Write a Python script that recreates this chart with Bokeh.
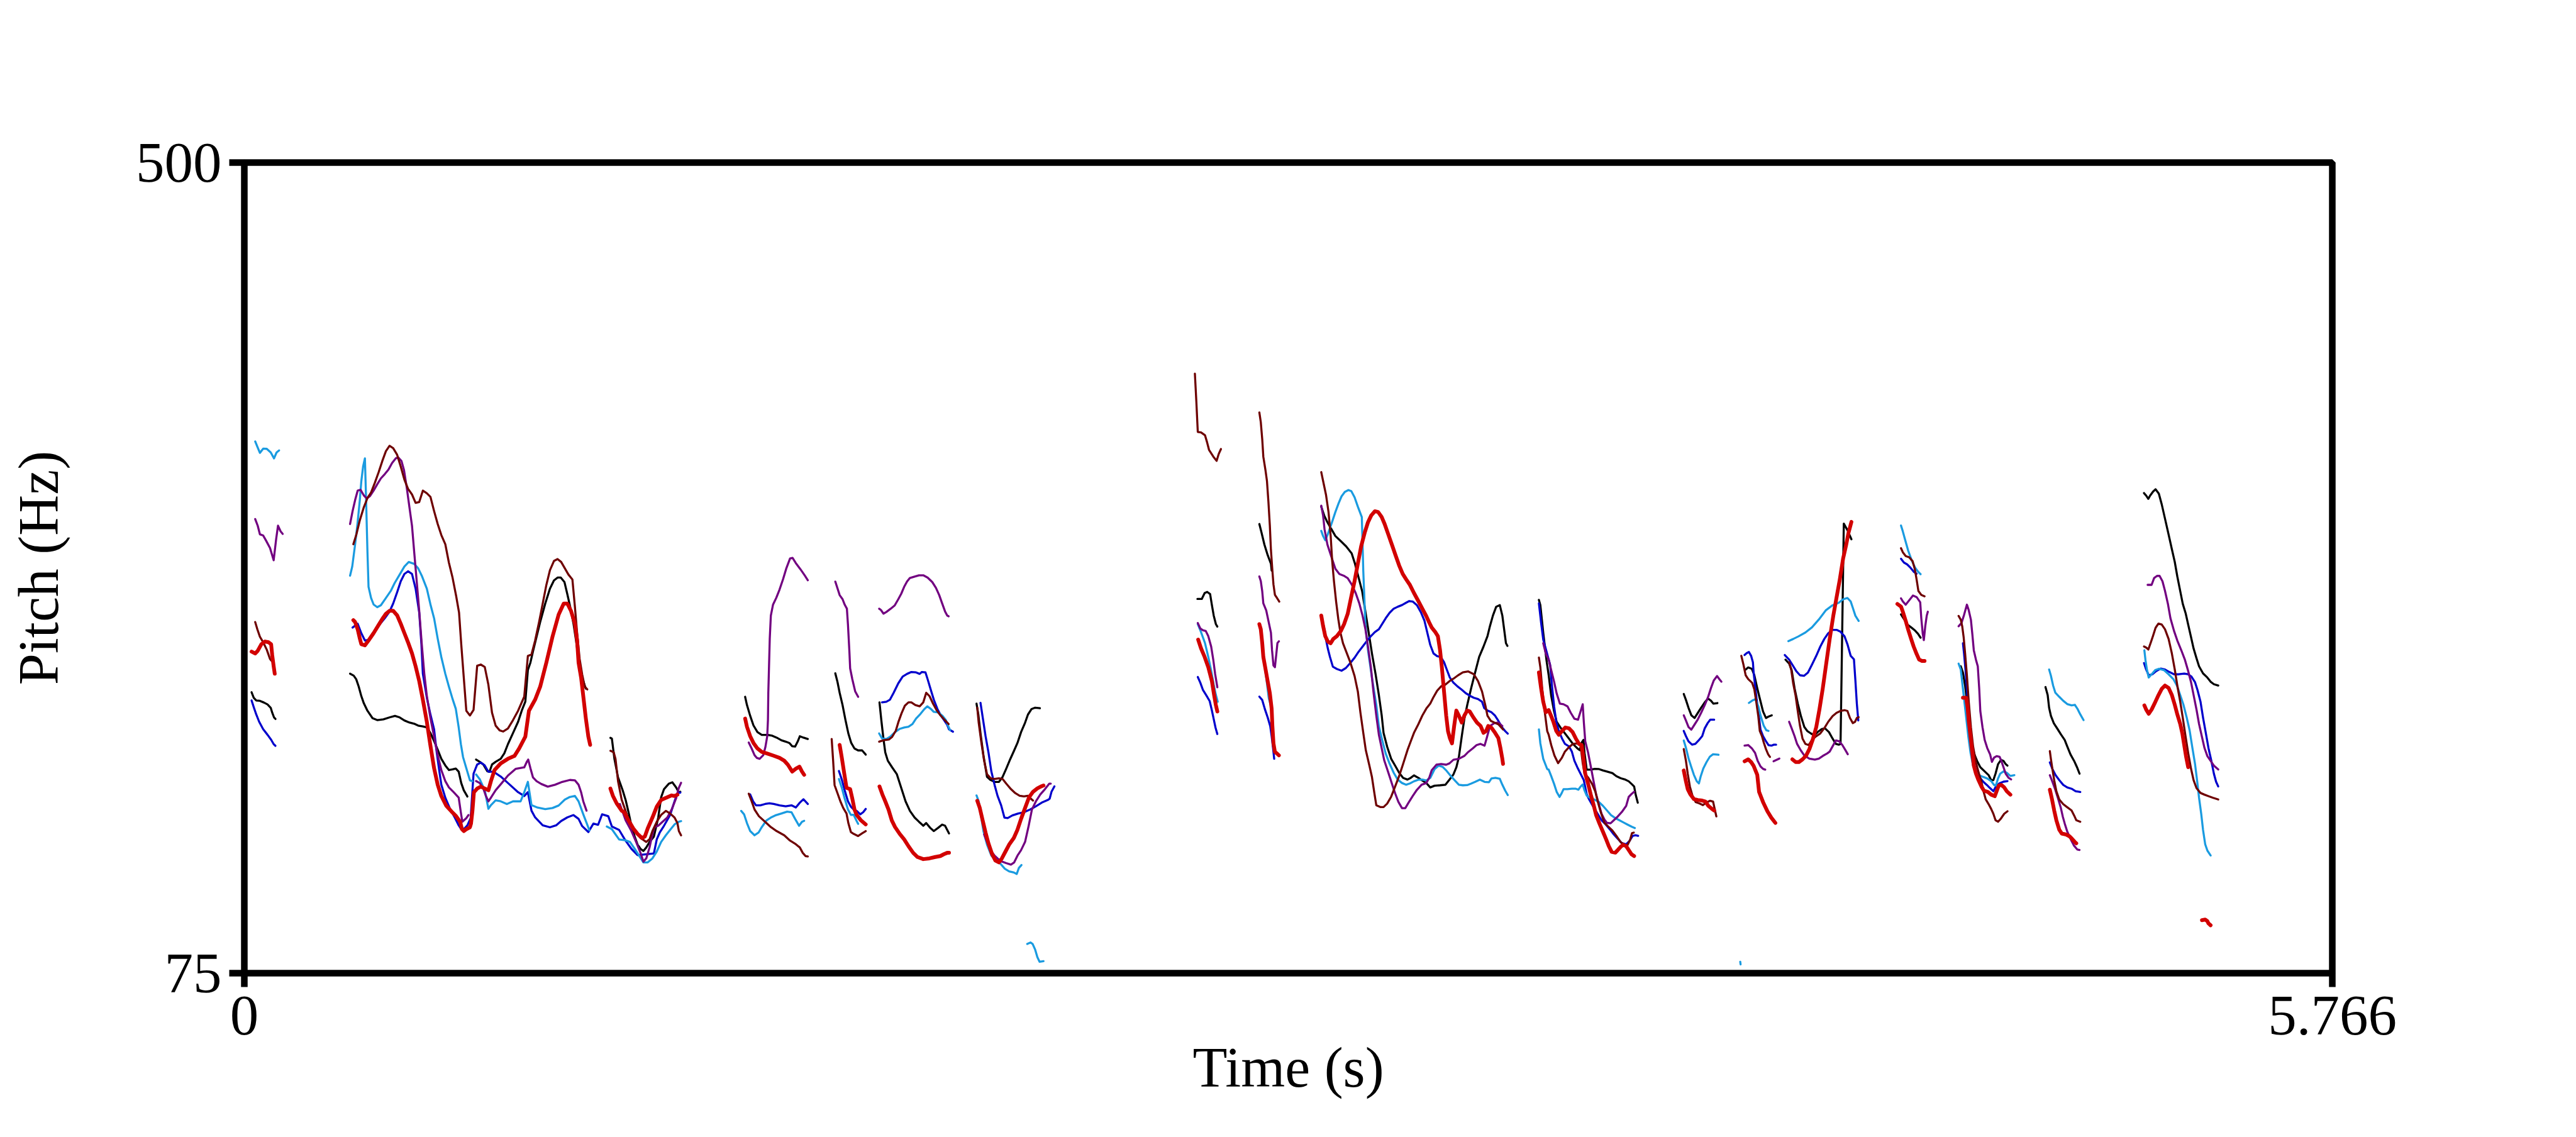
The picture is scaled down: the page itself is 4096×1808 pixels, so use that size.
from bokeh.plotting import figure
from bokeh.models import FixedTicker
from bokeh.embed import file_html
from bokeh.resources import INLINE

# ---------------- data (time in s, pitch in Hz) ----------------
X_TICKS = [0, 5.766]
X_TICK_LABELS = {0: "0", 5.766: "5.766"}
Y_TICKS = [75, 500]

BLACK_T = [
 [0.020,0.026,0.033,0.043,0.054,0.064,0.073,0.077,0.082,0.086],
 [0.292,0.302,0.309,0.316,0.323,0.330,0.340,0.354,0.367,0.384,0.401,0.416,0.429,0.442,0.456,0.469,0.480,0.493,0.504,0.514,0.524,0.534,0.544,0.555,0.565,0.575,0.584,0.592,0.599,0.606,0.616],
 [0.640,0.650,0.660,0.671,0.677,0.684,0.694,0.708,0.718,0.728,0.742,0.756,0.766,0.776,0.783,0.790,0.797,0.807,0.817,0.831,0.844,0.855,0.865,0.874,0.884,0.892,0.900,0.909,0.916,0.923,0.930,0.936,0.943],
 [1.011,1.015,1.022,1.032,1.045,1.053,1.061,1.069,1.078,1.086,1.094,1.102,1.110,1.119,1.131,1.143,1.151,1.159,1.172,1.182,1.192,1.200,1.204],
 [1.383,1.388,1.397,1.406,1.417,1.429,1.446,1.458,1.470,1.483,1.495,1.505,1.513,1.521,1.528,1.534,1.544,1.556],
 [1.632,1.638,1.644,1.652,1.660,1.668,1.676,1.685,1.695,1.706,1.716],
 [1.754,1.759,1.765,1.770,1.777,1.789,1.802,1.814,1.826,1.838,1.851,1.863,1.875,1.883,1.894,1.904,1.916,1.927,1.935,1.946],
 [2.022,2.027,2.033,2.041,2.051,2.059,2.072,2.084,2.094,2.104,2.115,2.125,2.135,2.145,2.156,2.164,2.174,2.184,2.197],
 [2.632,2.644,2.652,2.659,2.667,2.672,2.677,2.683,2.687],
 [2.803,2.809,2.817,2.826,2.835,2.837],
 [2.974,2.982,2.991,3.002,3.013,3.028,3.043,3.058,3.067,3.077,3.087,3.096,3.105,3.114,3.124,3.133,3.141,3.146,3.156,3.167,3.178,3.189,3.200,3.212,3.221,3.230,3.242,3.253,3.264,3.275,3.287,3.302,3.317,3.328,3.339,3.347,3.354,3.362,3.369,3.377,3.388,3.399,3.410,3.422,3.433,3.440,3.448,3.457,3.467,3.474,3.479,3.484,3.488],
 [3.575,3.579,3.587,3.596,3.602,3.609,3.617,3.624,3.636,3.647,3.658,3.669,3.681,3.688,3.693,3.698,3.701,3.707,3.718,3.729,3.741,3.752,3.763,3.778,3.789,3.801,3.812,3.823,3.831,3.838,3.842,3.848],
 [3.975,3.981,3.988,3.996,4.005,4.014,4.023,4.033,4.042,4.050,4.057,4.068],
 [4.146,4.153,4.163,4.170,4.178,4.185,4.194,4.202,4.209,4.218],
 [4.256,4.266,4.273,4.281,4.290,4.299,4.308,4.316,4.326,4.335,4.346,4.356,4.365,4.376,4.386,4.395,4.403,4.408,4.417,4.427,4.438],
 [4.575,4.584,4.593,4.603,4.614,4.622,4.629],
 [4.740,4.746,4.752,4.757,4.762,4.768,4.776,4.785,4.794,4.806,4.817,4.824,4.830,4.836,4.843,4.851,4.858,4.864,4.869],
 [4.974,4.980,4.984,4.989,4.997,5.007,5.017,5.027,5.034,5.043,5.053,5.061,5.068],
 [5.246,5.252,5.258,5.263,5.271,5.278,5.287,5.295,5.304,5.314,5.323,5.331,5.338,5.346,5.353,5.361,5.368,5.376,5.383,5.391,5.398,5.409,5.421,5.430,5.439,5.451],
]
BLACK_HZ = [
 [222.3,219.4,218.0,217.8,216.9,215.9,214.1,211.6,209.1,208.3],
 [232.0,231.0,229.1,225.2,220.3,216.5,212.6,208.7,207.7,208.1,209.1,209.9,209.1,207.5,206.4,205.8,204.8,204.4,203.9,200.9,196.7,192.2,187.4,183.9,181.5,181.9,182.3,180.6,174.7,170.9,167.6],
 [187.0,185.8,184.4,180.9,180.6,184.4,185.8,187.4,190.3,195.1,200.9,206.8,212.6,217.4,233.9,237.8,243.6,251.4,259.1,268.8,276.6,280.9,282.4,282.4,280.1,273.7,266.9,258.2,249.4,239.7,232.0,228.1,224.2],
 [198.4,198.0,187.4,177.7,170.8,165.8,159.4,152.3,146.6,142.4,140.2,139.1,140.9,143.8,146.6,156.6,167.2,171.5,174.3,175.1,172.5,169.7,170.1],
 [219.9,215.6,209.9,204.9,201.4,199.9,199.9,199.5,198.5,197.1,196.4,195.7,194.0,193.8,196.4,199.2,198.5,197.8],
 [232.2,227.7,222.0,215.6,207.8,200.7,195.7,192.8,191.8,191.8,189.6],
 [217.0,207.8,197.8,190.7,186.4,182.9,179.3,172.2,165.1,160.1,156.6,154.4,152.3,153.7,151.2,149.5,151.2,152.9,152.3,148.3],
 [216.3,210.6,200.7,189.3,177.9,176.5,175.3,175.3,177.9,182.2,187.2,191.4,195.7,201.4,206.3,210.6,213.5,214.2,213.9],
 [271.2,271.2,274.3,274.9,273.8,268.0,262.5,258.0,256.7],
 [310.5,306.0,299.7,294.2,289.7,286.1],
 [319.6,315.0,311.4,307.8,304.2,301.5,298.7,295.1,289.7,282.5,275.2,264.4,253.5,242.6,231.8,220.9,210.0,201.0,193.7,187.4,183.8,180.1,177.4,176.5,177.4,178.7,177.4,176.0,174.7,172.4,173.3,173.5,173.8,176.5,179.2,182.9,188.3,199.2,208.2,215.5,224.5,232.7,240.8,246.2,251.7,257.1,262.5,267.1,268.0,262.5,255.3,248.0,246.6],
 [270.7,268.0,253.5,239.0,231.2,220.4,212.2,206.8,203.4,200.7,198.0,195.2,192.9,191.9,195.9,197.3,190.5,181.7,181.7,182.1,182.0,181.3,180.7,179.9,178.3,177.2,176.6,175.6,174.2,172.9,168.8,164.4],
 [221.4,218.3,214.2,210.2,208.8,211.5,214.2,217.0,219.0,217.9,216.3,216.6],
 [234.2,235.3,234.6,231.2,224.4,219.0,212.2,208.8,209.5,210.2],
 [239.4,237.3,233.9,224.4,216.3,209.5,204.1,202.0,200.7,199.7,201.6,203.0,203.4,201.4,198.0,195.2,194.8,195.2,310.7,307.3,302.5],
 [263.1,260.4,257.7,256.3,254.6,252.9,250.9],
 [235.9,232.6,225.8,217.4,207.3,197.3,190.5,186.3,183.0,180.8,178.8,176.2,176.2,179.6,184.6,186.8,186.3,184.6,183.8],
 [225.0,220.8,214.1,209.9,206.0,203.1,200.1,197.3,193.9,189.7,186.3,183.0,179.6],
 [326.7,325.4,323.7,325.4,327.5,328.7,326.4,320.8,313.3,304.9,297.3,290.6,283.0,275.4,268.7,263.7,257.8,251.1,245.2,240.1,235.9,232.2,230.0,227.8,226.5,225.8],
]

BLUE_T = [
 [0.020,0.026,0.033,0.041,0.052,0.064,0.074,0.081,0.086],
 [0.299,0.313,0.323,0.333,0.343,0.357,0.371,0.388,0.401,0.411,0.422,0.432,0.442,0.452,0.463,0.473,0.483,0.489,0.493,0.504,0.514,0.524,0.531,0.538,0.544,0.555,0.568,0.582,0.592,0.599,0.608,0.616,0.625,
  0.633,0.643,0.653,0.664,0.674,0.688,0.708,0.728,0.756,0.773,0.783,0.793,0.803,0.824,0.844,0.861,0.875,0.892,0.909,0.923,0.933,0.950,0.964,0.977,0.988,1.005,1.015,1.035,1.052,1.069,1.086,1.102,1.131,1.139,1.147,1.159,1.176,1.188,1.196,1.204],
 [1.397,1.405,1.413,1.425,1.438,1.450,1.462,1.478,1.495,1.511,1.523,1.534,1.544,1.556],
 [1.642,1.650,1.658,1.667,1.675,1.683,1.691,1.701,1.709,1.716],
 [1.761,1.773,1.783,1.793,1.806,1.818,1.830,1.842,1.855,1.865,1.871,1.881,1.887,1.896,1.904,1.914,1.924,1.932,1.941,1.946,1.957],
 [2.033,2.039,2.047,2.055,2.063,2.072,2.080,2.090,2.099,2.108,2.121,2.137,2.153,2.170,2.186,2.202,2.219,2.224,2.229,2.237],
 [2.633,2.640,2.647,2.657,2.666,2.672,2.677,2.682,2.687],
 [2.803,2.811,2.818,2.826,2.833,2.837,2.841,2.844],
 [2.983,2.987,2.992,2.998,3.006,3.017,3.030,3.042,3.054,3.066,3.077,3.088,3.099,3.111,3.122,3.133,3.142,3.152,3.163,3.174,3.185,3.197,3.208,3.217,3.227,3.238,3.249,3.259,3.268,3.275,3.284,3.294,3.304,3.313,3.320,3.329,3.339,3.350,3.362,3.373,3.384,3.395,3.407,3.418,3.424,3.433,3.444,3.454,3.463,3.474,3.482,3.489],
 [3.575,3.581,3.587,3.606,3.611,3.617,3.623,3.630,3.639,3.647,3.658,3.666,3.673,3.681,3.690,3.699,3.707,3.714,3.726,3.737,3.748,3.759,3.771,3.782,3.793,3.804,3.816,3.825,3.834,3.842,3.849],
 [3.975,3.981,3.988,3.998,4.007,4.016,4.026,4.033,4.041,4.048,4.059],
 [4.143,4.149,4.155,4.161,4.166,4.168,4.172,4.176,4.181,4.187,4.194,4.202,4.209,4.217,4.224,4.230],
 [4.254,4.266,4.275,4.286,4.296,4.307,4.318,4.329,4.341,4.352,4.363,4.374,4.386,4.397,4.408,4.419,4.427,4.436,4.445,4.449,4.453,4.457],
 [4.575,4.583,4.592,4.601,4.610,4.618],
 [4.746,4.749,4.753,4.757,4.761,4.764,4.768,4.774,4.782,4.791,4.802,4.812,4.821,4.830,4.837,4.847,4.858,4.869],
 [4.986,4.993,5.002,5.012,5.023,5.034,5.046,5.057,5.070],
 [5.246,5.252,5.259,5.269,5.280,5.292,5.304,5.316,5.329,5.342,5.357,5.368,5.377,5.387,5.394,5.402,5.409,5.417,5.424,5.432,5.439,5.445,5.451],
]
BLUE_HZ = [
 [218.0,214.5,210.6,206.8,202.9,200.0,197.4,195.1,194.2],
 [256.2,258.2,253.3,249.4,249.8,253.3,257.2,261.1,264.6,268.8,274.7,280.5,284.3,285.7,284.3,276.6,264.0,247.5,232.0,219.4,210.6,202.9,191.2,181.6,173.8,167.0,161.2,156.3,152.5,150.5,150.9,152.5,156.3,
  179.6,184.4,185.4,183.9,180.6,180.6,178.1,174.7,169.9,167.9,169.9,160.2,156.7,152.5,151.5,152.5,154.8,156.7,157.9,155.9,152.1,149.0,153.4,152.8,158.3,157.3,151.9,150.1,144.7,140.2,136.9,137.2,137.8,145.2,148.7,152.3,158.0,165.1,169.4,169.7],
 [168.7,165.1,163.0,163.0,163.7,164.1,163.7,163.0,162.5,163.0,161.9,164.4,166.2,163.7],
 [181.0,176.5,170.8,165.1,162.3,160.8,160.1,158.3,159.4,161.1],
 [217.0,217.3,218.4,222.0,227.0,230.5,231.9,232.9,232.7,231.9,232.9,232.7,229.1,223.4,218.4,213.5,209.9,207.8,205.2,202.8,201.6],
 [216.7,209.2,199.2,190.7,180.7,173.6,168.0,163.0,156.6,156.3,157.7,158.7,159.4,160.8,162.5,164.4,165.8,166.5,170.1,172.9],
 [230.3,227.3,223.6,220.5,217.6,212.7,208.2,203.7,200.4],
 [220.0,218.2,213.6,209.1,204.6,199.2,192.8,187.4],
 [255.3,249.9,245.3,240.8,235.7,234.5,233.6,235.0,237.6,240.4,243.5,246.2,248.9,251.7,253.8,255.3,258.0,261.1,264.0,266.1,267.1,268.0,269.2,270.1,269.8,268.0,264.3,259.8,252.6,247.1,242.6,241.2,240.8,238.1,234.5,230.0,227.3,225.4,223.6,221.8,220.5,219.4,218.7,217.3,214.0,212.7,211.8,210.0,207.3,203.7,201.9,200.6],
 [268.9,258.9,249.9,236.7,225.8,214.9,206.8,202.0,198.0,195.2,193.9,191.2,186.4,183.0,179.6,176.2,168.8,166.0,162.0,158.6,155.2,153.1,150.4,147.7,145.4,143.2,142.6,144.3,147.0,147.3,147.0],
 [202.0,199.3,196.6,194.8,195.2,197.0,199.3,203.4,206.1,207.9,207.9],
 [241.8,242.8,243.4,241.4,238.0,232.6,225.8,219.0,212.2,202.7,199.3,196.6,194.6,194.3,194.8,194.8],
 [241.8,239.4,236.7,233.3,231.2,230.9,232.6,236.7,241.4,246.2,250.2,253.2,255.0,255.0,254.0,251.6,247.5,241.4,239.6,228.5,216.3,207.5],
 [292.3,290.3,289.3,287.6,285.5,284.4],
 [248.0,242.6,234.2,224.1,212.4,202.3,193.9,187.2,181.3,177.9,175.4,173.7,172.0,170.4,172.9,174.6,175.4,175.7],
 [185.5,182.1,178.8,176.2,173.7,172.4,171.7,170.4,170.0],
 [237.6,234.2,231.2,231.7,233.4,234.7,234.2,232.9,231.7,231.7,232.1,231.7,230.5,227.5,223.3,217.4,209.0,200.6,193.1,186.3,179.6,175.4,172.9],
]

LIGHTBLUE_T = [
 [0.030,0.036,0.043,0.052,0.062,0.073,0.082,0.089,0.096],
 [0.292,0.298,0.306,0.313,0.319,0.323,0.328,0.333,0.336,0.340,0.343,0.350,0.357,0.367,0.377,0.391,0.405,0.415,0.429,0.442,0.454,0.469,0.480,0.490,0.504,0.514,0.524,0.534,0.544,0.555,0.565,0.575,0.584,0.592,0.598,0.604,0.613,0.623,0.630],
 [0.640,0.650,0.664,0.674,0.681,0.694,0.708,0.725,0.742,0.763,0.773,0.783,0.793,0.810,0.831,0.851,0.868,0.885,0.899,0.913,0.923,0.936,0.953],
 [1.001,1.015,1.022,1.035,1.052,1.065,1.078,1.090,1.102,1.114,1.127,1.139,1.151,1.164,1.176,1.188,1.200,1.206],
 [1.372,1.380,1.388,1.397,1.409,1.420,1.429,1.442,1.454,1.466,1.483,1.499,1.511,1.521,1.532,1.540,1.546],
 [1.642,1.650,1.658,1.667,1.675,1.683,1.690,1.695],
 [1.753,1.761,1.773,1.785,1.797,1.810,1.822,1.834,1.845,1.855,1.867,1.878,1.886,1.896,1.904,1.916,1.928,1.937,1.943,1.949],
 [2.022,2.028,2.035,2.041,2.051,2.063,2.076,2.088,2.100,2.112,2.125,2.133,2.139,2.146],
 [2.162,2.171,2.177,2.184,2.190,2.196,2.207],
 [2.633,2.642,2.653,2.662,2.670,2.677,2.683,2.688],
 [2.814,2.822,2.829,2.837],
 [2.974,2.979,2.985,2.992,3.002,3.013,3.022,3.030,3.039,3.049,3.057,3.066,3.075,3.086,3.088,3.090,3.093,3.096,3.103,3.114,3.126,3.133,3.142,3.152,3.163,3.174,3.185,3.197,3.208,3.219,3.230,3.242,3.253,3.264,3.275,3.287,3.298,3.309,3.320,3.332,3.343,3.354,3.365,3.377,3.388,3.399,3.412,3.425,3.437,3.444,3.455,3.467,3.474,3.482,3.489],
 [3.575,3.579,3.587,3.598,3.602,3.609,3.617,3.624,3.632,3.638,3.643,3.654,3.666,3.677,3.684,3.690,3.696,3.701,3.707,3.718,3.729,3.741,3.752,3.763,3.774,3.786,3.797,3.808,3.819,3.831,3.840],
 [3.975,3.981,3.988,3.996,4.003,4.011,4.017,4.022,4.029,4.038,4.047,4.056,4.071],
 [4.131,4.132],
 [4.155,4.164,4.173,4.181,4.188,4.196,4.203,4.209],
 [4.264,4.277,4.292,4.311,4.329,4.348,4.367,4.386,4.403,4.415,4.427,4.436,4.442,4.449,4.458],
 [4.575,4.580,4.588,4.595,4.605,4.614,4.623,4.629],
 [4.734,4.740,4.744,4.749,4.755,4.761,4.767,4.774,4.782,4.791,4.802,4.813,4.824,4.832,4.837,4.843,4.849,4.858,4.867,4.877,4.888],
 [4.984,4.989,4.995,5.001,5.012,5.023,5.034,5.046,5.055,5.062,5.070,5.079],
 [5.247,5.250,5.254,5.259,5.267,5.277,5.287,5.301,5.314,5.327,5.337,5.346,5.355,5.364,5.372,5.379,5.387,5.393,5.398,5.404,5.409,5.415,5.421,5.430],
]
LIGHTBLUE_HZ = [
 [353.8,351.0,347.8,350.0,349.9,348.0,344.9,348.0,349.1],
 [283.4,288.2,299.9,311.5,323.2,332.8,340.6,344.9,325.1,296.0,277.6,271.7,268.3,266.9,267.9,271.7,275.6,279.5,284.0,288.2,290.6,289.6,287.3,283.4,276.6,268.3,261.1,250.4,240.7,232.0,225.2,218.8,213.6,203.8,195.1,188.3,182.5,176.1,175.7],
 [179.2,176.7,170.9,161.2,163.1,165.6,165.1,163.7,165.1,165.1,169.9,175.3,163.1,161.8,161.0,161.6,162.9,166.0,167.4,167.9,165.1,158.3,149.9],
 [151.9,150.5,148.6,145.1,144.7,143.8,140.2,136.7,133.1,133.1,135.2,138.8,143.8,147.3,150.2,153.0,154.4,154.7],
 [160.1,158.3,153.7,149.5,147.3,148.7,151.6,155.1,156.6,157.7,158.7,159.7,159.4,155.9,152.3,154.4,154.9],
 [176.8,172.2,166.5,160.8,158.0,158.0,155.1,153.3],
 [200.7,198.1,197.8,199.2,201.4,203.1,203.8,204.2,205.6,208.5,210.9,213.5,214.9,213.5,212.0,211.7,209.9,207.8,204.9,202.4],
 [168.2,165.1,156.6,149.5,142.4,136.6,134.1,132.4,129.8,128.4,127.8,127.0,130.2,131.7],
 [90.3,91.1,90.3,87.3,83.4,81.0,81.3],
 [258.0,253.8,248.0,240.8,233.6,226.3,220.9,217.3],
 [240.8,230.0,219.2,213.6],
 [306.9,304.2,302.0,305.1,310.5,316.8,321.4,325.0,327.3,328.3,327.7,324.5,319.6,314.1,300.6,286.1,271.6,257.1,244.4,229.9,215.5,204.6,197.4,190.1,184.7,180.1,176.5,174.7,173.8,174.5,175.6,176.4,176.5,176.0,177.4,182.0,183.8,183.2,181.1,178.3,176.0,173.8,173.5,173.6,174.4,175.3,176.5,175.3,175.1,177.1,177.4,176.9,173.8,170.7,168.4],
 [202.8,195.5,187.4,182.0,181.7,178.3,174.2,170.1,167.4,169.4,171.5,171.5,171.7,171.7,171.2,172.8,173.9,170.8,168.1,166.7,166.0,164.7,162.7,160.3,157.9,156.3,155.2,154.1,153.0,151.8,151.1],
 [197.0,193.2,187.8,183.0,179.0,175.6,174.5,178.3,182.3,185.7,188.5,189.8,189.5],
 [81.0,79.6],
 [216.7,217.9,218.7,214.9,209.5,204.7,202.4,202.0],
 [249.1,250.2,251.6,253.6,256.3,260.4,265.2,267.9,269.2,271.0,271.7,269.9,266.5,262.4,259.7],
 [309.7,306.6,301.1,296.4,291.2,287.6,285.3,284.2],
 [237.3,234.2,227.5,219.1,209.0,198.9,190.5,183.8,180.4,178.8,177.9,177.1,175.7,173.7,173.4,177.1,179.6,180.8,180.1,178.4,178.8],
 [234.2,230.9,225.8,222.1,219.9,217.8,216.1,215.4,215.7,213.7,210.7,207.7],
 [244.3,239.3,234.2,230.0,231.7,233.9,234.6,233.9,231.7,229.2,225.8,220.8,215.7,209.0,202.3,193.9,184.6,175.4,167.0,158.6,150.2,142.6,139.3,136.7],
]

PURPLE_T = [
 [0.030,0.037,0.043,0.052,0.060,0.071,0.081,0.088,0.093,0.100,0.106],
 [0.292,0.299,0.306,0.313,0.321,0.330,0.338,0.347,0.357,0.367,0.377,0.388,0.398,0.408,0.418,0.425,0.434,0.441,0.449,0.456,0.463,0.469,0.476,0.483,0.490,0.497,0.504,0.514,0.524,0.534,0.544,0.555,0.565,0.578,0.592,0.598,0.602,0.613,0.619],
 [0.640,0.650,0.660,0.667,0.674,0.681,0.694,0.711,0.728,0.749,0.773,0.780,0.784,0.790,0.797,0.807,0.820,0.838,0.858,0.878,0.899,0.913,0.923,0.930,0.936,0.945],
 [1.037,1.053,1.069,1.082,1.094,1.102,1.110,1.119,1.127,1.133,1.143,1.155,1.168,1.180,1.192,1.200,1.206],
 [1.393,1.401,1.409,1.415,1.423,1.433,1.439,1.444,1.446,1.447,1.449,1.451,1.454,1.460,1.469,1.478,1.488,1.497,1.507,1.514,1.523,1.536,1.548,1.556],
 [1.632,1.638,1.644,1.652,1.658,1.664,1.667,1.671,1.673,1.679,1.687,1.695],
 [1.753,1.758,1.765,1.773,1.785,1.796,1.806,1.814,1.822,1.830,1.838,1.851,1.863,1.875,1.887,1.900,1.910,1.919,1.927,1.935,1.941,1.945],
 [2.043,2.051,2.061,2.072,2.088,2.104,2.117,2.126,2.135,2.145,2.156,2.166,2.175,2.186,2.198,2.211,2.223,2.227],
 [2.633,2.640,2.647,2.655,2.662,2.670,2.676,2.681,2.687],
 [2.803,2.807,2.811,2.814,2.822,2.829,2.835,2.838,2.842,2.846,2.850,2.853,2.857],
 [2.974,2.979,2.983,2.991,3.002,3.013,3.024,3.036,3.047,3.058,3.069,3.079,3.088,3.096,3.103,3.111,3.118,3.126,3.133,3.141,3.148,3.156,3.164,3.170,3.178,3.187,3.197,3.206,3.215,3.227,3.238,3.251,3.264,3.272,3.279,3.292,3.305,3.319,3.328,3.339,3.354,3.369,3.380,3.392,3.403,3.414,3.425,3.431,3.440,3.452,3.463,3.474],
 [3.587,3.594,3.602,3.609,3.617,3.624,3.633,3.643,3.654,3.663,3.673,3.683,3.690,3.696,3.699,3.703,3.711,3.718,3.726,3.733,3.741,3.748,3.756,3.763,3.773,3.782,3.793,3.804,3.816,3.823,3.831,3.838],
 [3.975,3.981,3.988,3.996,4.005,4.014,4.023,4.033,4.042,4.050,4.058,4.067,4.073,4.079],
 [4.143,4.153,4.163,4.172,4.179,4.187,4.194,4.200],
 [4.223,4.239],
 [4.266,4.273,4.281,4.288,4.298,4.308,4.322,4.337,4.348,4.359,4.371,4.378,4.386,4.395,4.404,4.413,4.421,4.428],
 [4.575,4.580,4.588,4.598,4.608,4.618,4.628,4.631,4.635,4.638,4.642,4.646,4.649],
 [4.734,4.742,4.749,4.757,4.762,4.768,4.772,4.776,4.782,4.787,4.791,4.794,4.800,4.806,4.813,4.821,4.826,4.832,4.839,4.847,4.852,4.858,4.864,4.872,4.879],
 [4.986,4.993,5.001,5.008,5.016,5.022,5.027,5.034,5.044,5.053,5.062,5.068],
 [5.256,5.267,5.274,5.282,5.289,5.297,5.304,5.312,5.319,5.329,5.338,5.349,5.359,5.368,5.376,5.383,5.391,5.398,5.406,5.413,5.421,5.430,5.439,5.451],
]
PURPLE_HZ = [
 [313.1,309.6,305.1,304.5,301.8,297.9,291.5,302.8,309.6,306.7,305.3],
 [310.5,317.3,323.1,328.0,328.4,325.5,323.9,325.1,328.0,331.3,334.4,336.7,339.0,342.5,344.9,345.4,343.5,338.7,329.0,319.2,309.6,296.0,280.5,264.9,247.5,232.0,220.3,208.7,199.0,189.3,181.5,175.7,172.4,169.9,167.0,159.2,154.4,156.3,157.9],
 [175.7,174.7,171.8,168.0,165.1,167.0,170.9,174.7,178.6,182.1,182.9,185.8,187.0,182.5,177.7,175.7,174.2,172.8,173.8,175.3,176.3,176.1,173.8,169.9,165.1,160.2],
 [163.7,155.1,149.5,143.8,138.1,133.5,135.2,140.9,148.0,151.6,152.3,154.4,156.6,160.8,166.5,172.2,174.8],
 [195.9,192.8,189.3,187.9,187.4,189.3,193.6,199.2,207.8,222.0,236.2,250.4,262.5,268.2,271.8,276.1,281.7,287.4,292.4,292.7,290.0,286.7,283.4,281.0],
 [280.3,276.8,273.2,271.1,268.2,266.1,257.6,243.3,234.8,229.1,222.7,219.9],
 [266.1,265.4,263.5,264.4,266.1,267.8,271.1,273.9,277.5,280.3,282.2,282.9,283.6,283.6,282.4,280.0,277.0,273.2,268.9,264.7,262.5,262.1],
 [147.7,143.8,139.4,136.6,133.8,132.7,131.9,133.1,136.6,139.5,143.8,152.3,160.8,165.1,168.7,171.5,174.4,174.4],
 [258.6,255.7,254.8,254.4,251.7,246.2,239.0,231.8,224.9],
 [283.0,280.6,275.2,268.9,265.2,258.9,253.5,244.4,236.3,235.4,242.6,248.1,249.0],
 [320.1,315.0,307.8,299.7,293.3,287.0,284.3,283.4,282.1,278.8,274.3,268.9,262.5,255.3,246.2,235.4,222.7,210.0,200.1,192.8,186.5,182.0,177.4,173.8,169.3,164.8,161.5,161.5,164.4,168.0,171.1,173.8,174.7,177.4,181.4,184.3,184.7,184.3,185.0,186.9,187.4,188.9,191.0,192.8,194.6,195.2,194.3,198.3,204.6,206.1,206.4,204.6],
 [248.0,242.6,239.4,233.9,227.8,221.7,216.3,216.0,214.9,211.5,208.4,207.9,212.2,216.0,206.8,196.6,190.5,183.7,175.6,168.8,163.3,158.6,155.5,153.8,153.6,155.2,157.2,159.5,162.7,167.4,169.0,170.1],
 [210.2,207.5,204.1,202.7,205.4,208.1,211.5,215.6,219.7,224.4,228.5,230.8,229.2,227.8],
 [194.3,194.6,192.9,190.5,186.4,183.4,182.1,181.7],
 [186.1,187.5],
 [206.8,203.4,199.3,195.2,191.9,189.1,187.5,187.0,187.5,188.9,190.2,191.2,193.9,197.0,196.6,194.6,192.1,189.8],
 [271.5,269.9,268.2,270.6,273.0,272.2,269.5,261.1,253.0,249.6,257.0,262.4,264.5],
 [256.9,258.6,262.8,268.2,265.3,260.3,252.7,244.3,239.3,235.9,224.1,212.4,204.0,197.3,193.1,189.7,185.8,188.0,188.8,188.5,186.3,183.0,179.6,177.4,176.6],
 [178.8,175.4,171.2,167.0,161.9,156.9,153.5,149.3,145.1,141.8,139.8,139.6],
 [278.6,278.6,282.2,283.3,283.3,280.5,275.4,268.7,261.1,254.4,249.4,244.3,239.3,233.4,227.5,220.8,213.2,205.7,198.9,193.1,188.8,186.3,183.8,181.8],
]

MAROON_T = [
 [0.030,0.036,0.043,0.052,0.062,0.071,0.075],
 [0.301,0.309,0.319,0.330,0.340,0.350,0.360,0.371,0.381,0.391,0.401,0.411,0.422,0.432,0.442,0.452,0.463,0.473,0.483,0.493,0.504,0.514,0.524,0.534,0.544,0.555,0.565,0.575,0.585,0.593,0.599,0.606,0.613,0.623,0.633,0.643,0.653,0.664,0.674,0.684,0.694,0.705,0.715,0.728,0.742,0.756,0.773,0.783,0.793,0.803,0.814,0.824,0.834,0.844,0.855,0.865,0.875,0.885,0.895,0.906,0.913,0.919,0.926,0.933,0.940,0.947],
 [1.011,1.020,1.025,1.032,1.042,1.056,1.069,1.078,1.094,1.110,1.119,1.127,1.139,1.151,1.164,1.176,1.188,1.196,1.200,1.206],
 [1.393,1.401,1.409,1.421,1.438,1.454,1.470,1.491,1.507,1.523,1.534,1.542,1.550,1.556],
 [1.622,1.626,1.630,1.638,1.646,1.654,1.663,1.668,1.675,1.683,1.695,1.706,1.716],
 [1.753,1.765,1.780,1.789,1.799,1.807,1.815,1.824,1.834,1.842,1.853,1.865,1.875,1.883,1.892,1.902,1.912,1.922,1.932,1.945],
 [2.024,2.028,2.035,2.043,2.051,2.061,2.072,2.084,2.094,2.104,2.117,2.129,2.141,2.153,2.164,2.172,2.178],
 [2.625,2.629,2.633,2.642,2.653,2.659,2.664,2.676,2.685,2.691,2.697],
 [2.803,2.807,2.811,2.814,2.820,2.824,2.828,2.832,2.835,2.839,2.842,2.846,2.852,2.858],
 [2.974,2.979,2.987,2.994,3.000,3.004,3.009,3.015,3.021,3.027,3.034,3.043,3.054,3.066,3.075,3.082,3.090,3.097,3.107,3.114,3.120,3.126,3.137,3.146,3.156,3.167,3.178,3.189,3.200,3.212,3.221,3.230,3.242,3.253,3.264,3.275,3.283,3.294,3.305,3.317,3.328,3.339,3.352,3.365,3.380,3.395,3.407,3.418,3.427,3.433,3.442,3.452,3.463,3.476],
 [3.575,3.579,3.584,3.590,3.598,3.602,3.609,3.618,3.628,3.638,3.647,3.658,3.669,3.681,3.690,3.696,3.701,3.711,3.722,3.731,3.738,3.746,3.756,3.767,3.778,3.789,3.801,3.812,3.819,3.827,3.832,3.837],
 [3.975,3.981,3.986,3.992,3.999,4.008,4.018,4.028,4.037,4.048,4.056,4.061,4.065],
 [4.134,4.140,4.146,4.153,4.164,4.170,4.176,4.181,4.185,4.191,4.196,4.202,4.208,4.213],
 [4.266,4.272,4.277,4.284,4.290,4.296,4.303,4.311,4.320,4.329,4.341,4.352,4.363,4.374,4.386,4.397,4.408,4.419,4.427,4.434,4.442,4.448,4.453,4.458],
 [4.575,4.580,4.588,4.598,4.607,4.613,4.618,4.623,4.631,4.640],
 [4.734,4.740,4.744,4.748,4.752,4.757,4.762,4.768,4.774,4.782,4.789,4.797,4.804,4.809,4.817,4.824,4.830,4.836,4.843,4.851,4.860,4.869],
 [4.986,4.989,4.993,4.998,5.004,5.012,5.023,5.034,5.046,5.053,5.059,5.070],
 [5.246,5.252,5.258,5.265,5.271,5.278,5.286,5.295,5.304,5.314,5.323,5.331,5.338,5.346,5.353,5.361,5.368,5.376,5.383,5.391,5.402,5.413,5.424,5.436,5.451],
]
MAROON_HZ = [
 [259.1,255.3,251.4,248.5,244.6,239.7,238.8],
 [299.9,304.7,312.5,319.3,324.1,327.0,331.9,337.7,343.5,348.7,351.5,350.3,346.8,340.6,333.8,329.0,326.0,321.6,322.0,328.0,326.6,324.7,317.3,310.5,304.7,299.9,290.2,282.4,272.7,264.0,247.5,230.0,212.6,210.1,213.0,236.2,236.8,235.5,226.2,211.6,204.8,202.3,201.7,203.3,207.7,212.6,220.0,241.3,242.1,249.4,259.1,268.8,278.5,286.3,291.1,292.1,290.6,287.3,284.0,281.4,266.9,253.3,239.7,231.6,225.2,223.8],
 [191.6,190.8,187.4,175.7,166.0,158.3,152.0,149.5,145.9,143.8,145.2,149.5,154.4,158.0,160.1,158.7,156.6,153.7,149.5,147.3],
 [169.1,165.1,160.8,157.3,154.4,151.6,149.5,147.3,144.5,142.6,140.9,138.1,136.4,136.2],
 [197.8,186.4,173.6,169.4,165.1,161.6,158.7,153.7,149.0,148.0,146.9,148.3,149.5],
 [196.4,197.1,197.5,198.9,202.1,207.1,211.3,215.2,217.0,217.0,215.6,214.9,217.0,222.0,220.3,216.3,212.8,210.3,208.2,205.6],
 [214.2,206.3,196.4,186.4,179.3,177.2,176.8,177.2,176.8,174.4,171.5,169.4,168.0,167.7,168.0,166.5,165.5],
 [389.3,374.8,358.8,358.5,357.0,353.1,349.4,345.8,343.6,347.3,349.8],
 [369.0,363.9,354.9,345.8,338.6,333.1,322.3,309.6,296.9,286.1,278.8,273.4,271.6,269.8],
 [337.7,333.1,325.9,316.8,304.2,291.5,280.6,269.8,260.7,253.5,248.0,243.5,238.1,230.8,222.7,211.8,201.0,191.9,183.8,177.8,170.2,163.0,162.1,162.1,163.9,167.5,172.9,178.3,184.7,191.9,196.5,201.0,205.5,210.0,213.7,216.4,219.4,223.1,225.4,226.3,228.1,229.4,231.2,232.7,233.2,231.8,228.1,222.7,215.5,210.0,207.3,206.4,205.5,202.8],
 [240.5,235.4,224.5,213.7,201.9,200.0,194.6,189.1,185.1,187.8,191.2,193.5,195.2,195.5,194.6,185.1,179.6,177.6,174.2,170.1,164.7,159.3,153.8,151.8,149.8,147.0,143.6,142.3,141.9,145.0,148.4,148.7],
 [192.5,186.4,179.6,172.8,168.1,164.7,164.0,163.1,164.4,165.4,165.0,160.6,157.2],
 [241.4,236.7,231.2,229.2,227.2,223.8,216.3,209.5,202.0,199.3,195.9,192.5,189.8,188.4],
 [238.0,233.9,227.2,220.4,212.2,204.7,198.0,195.2,194.6,197.3,199.3,200.7,203.4,206.8,209.8,211.5,212.5,212.9,212.5,208.8,206.1,206.8,208.8,209.2],
 [297.8,295.7,293.7,293.0,291.0,286.9,281.5,275.4,273.3,272.6],
 [262.3,260.3,256.9,251.1,242.6,230.9,217.4,204.0,193.9,185.5,180.4,175.4,169.5,166.1,163.6,161.1,158.6,155.2,154.4,156.1,158.6,159.9],
 [191.4,187.2,182.1,176.2,170.4,166.1,163.6,162.0,160.3,157.7,155.2,154.4],
 [246.3,245.7,244.7,248.5,251.9,256.1,258.3,257.8,255.3,250.2,242.6,234.2,225.8,217.4,209.0,198.9,190.5,182.1,176.2,172.0,169.5,168.6,167.8,167.0,166.1],
]

RED_T = [
 [0.020,0.030,0.037,0.047,0.057,0.067,0.074,0.077,0.081,0.084],
 [0.301,0.306,0.313,0.319,0.323,0.333,0.343,0.357,0.371,0.381,0.391,0.401,0.411,0.422,0.432,0.442,0.452,0.463,0.473,0.483,0.493,0.504,0.514,0.524,0.534,0.544,0.558,0.572,0.585,0.596,0.601,0.606,0.613,0.623,0.626,0.630,0.634,0.643,0.653,0.664,0.674,0.681,0.691,0.708,0.728,0.746,0.759,0.776,0.786,0.803,0.817,0.834,0.851,0.868,0.882,0.892,0.902,0.913,0.919,0.923,0.930,0.936,0.943,0.950,0.955],
 [1.011,1.018,1.028,1.042,1.049,1.061,1.074,1.086,1.098,1.106,1.114,1.127,1.139,1.151,1.168,1.180,1.188,1.196],
 [1.383,1.388,1.397,1.406,1.417,1.429,1.446,1.462,1.478,1.491,1.501,1.513,1.523,1.533,1.540,1.546],
 [1.644,1.650,1.657,1.663,1.673,1.679,1.685,1.691,1.703,1.716],
 [1.754,1.762,1.770,1.779,1.788,1.797,1.810,1.822,1.834,1.847,1.859,1.875,1.892,1.908,1.922,1.932,1.941,1.946],
 [2.024,2.031,2.039,2.047,2.055,2.065,2.074,2.084,2.092,2.102,2.112,2.125,2.135,2.145,2.156,2.167,2.178,2.190,2.200,2.207],
 [2.634,2.642,2.652,2.662,2.672,2.678,2.683,2.687],
 [2.803,2.807,2.811,2.814,2.820,2.826,2.832,2.837,2.839,2.842,2.846,2.852,2.857],
 [2.974,2.979,2.985,2.992,3.000,3.007,3.017,3.028,3.037,3.047,3.056,3.066,3.075,3.084,3.094,3.103,3.112,3.122,3.131,3.141,3.149,3.159,3.169,3.179,3.189,3.199,3.208,3.219,3.230,3.242,3.254,3.264,3.272,3.279,3.289,3.296,3.302,3.307,3.313,3.319,3.324,3.329,3.335,3.341,3.347,3.354,3.362,3.369,3.377,3.384,3.394,3.404,3.414,3.422,3.429,3.435,3.444,3.454,3.463,3.469,3.474,3.476],
 [3.575,3.581,3.587,3.594,3.602,3.608,3.615,3.623,3.630,3.639,3.648,3.658,3.668,3.677,3.686,3.693,3.698,3.703,3.711,3.718,3.726,3.733,3.743,3.752,3.761,3.768,3.776,3.786,3.793,3.801,3.808,3.816,3.823,3.831,3.838],
 [3.975,3.981,3.986,3.993,4.003,4.014,4.026,4.035,4.043,4.052,4.059],
 [4.143,4.153,4.161,4.168,4.178,4.183,4.194,4.206,4.217,4.228],
 [4.275,4.284,4.293,4.303,4.313,4.322,4.331,4.341,4.350,4.359,4.368,4.378,4.388,4.397,4.406,4.415,4.423,4.430,4.438],
 [4.565,4.575,4.580,4.588,4.595,4.603,4.610,4.618,4.625,4.633,4.640],
 [4.746,4.755,4.759,4.762,4.767,4.772,4.776,4.782,4.789,4.797,4.804,4.815,4.824,4.834,4.839,4.845,4.852,4.860,4.867,4.877],
 [4.986,4.992,4.998,5.004,5.012,5.019,5.031,5.040,5.047,5.055,5.059],
 [5.247,5.252,5.259,5.267,5.277,5.286,5.295,5.304,5.314,5.323,5.331,5.338,5.346,5.352,5.357,5.362,5.368],
 [5.406,5.415,5.421,5.424,5.430],
]
RED_HZ = [
 [243.6,242.6,244.0,247.5,248.9,248.5,247.5,241.7,235.9,232.0],
 [260.1,259.1,255.3,250.4,247.5,246.9,249.4,253.3,257.6,260.7,263.4,265.0,265.0,262.6,258.2,253.3,248.5,242.7,235.9,228.1,218.4,206.8,194.2,182.5,173.8,167.9,162.7,159.8,157.3,154.4,150.5,149.5,150.5,151.5,153.4,160.2,169.9,171.8,172.8,171.8,170.9,175.7,181.5,185.0,187.4,188.9,192.8,199.0,212.6,218.4,225.2,237.8,251.4,263.0,268.8,268.8,265.0,258.2,249.4,237.8,230.0,220.3,208.7,199.0,194.7],
 [171.8,167.9,164.1,160.2,159.4,155.1,150.9,148.0,145.9,146.6,150.9,156.6,162.3,165.8,167.2,168.2,167.9,168.6],
 [208.5,204.2,199.2,195.7,192.8,191.0,190.0,189.0,187.9,186.4,184.3,180.7,182.2,183.3,180.7,179.0],
 [194.7,187.9,179.3,172.2,171.5,166.5,160.8,158.0,155.1,153.0],
 [172.9,168.7,165.1,160.8,155.1,151.6,148.0,145.2,141.6,138.1,135.9,134.8,135.2,135.9,136.4,137.4,138.1,138.1],
 [165.4,161.6,155.1,148.7,143.0,137.4,134.1,133.1,135.2,138.8,142.4,145.9,150.2,155.9,161.6,167.2,170.1,171.9,172.9,173.4],
 [249.9,245.3,240.8,235.4,228.1,220.9,215.5,212.2],
 [258.0,255.3,248.0,240.8,234.5,228.1,221.8,213.6,204.6,195.5,191.0,190.1,189.2],
 [262.5,257.1,251.7,248.9,248.0,250.2,251.7,254.4,258.0,263.4,271.6,280.6,289.7,298.7,306.0,311.4,315.0,317.2,316.8,314.1,310.5,305.1,299.7,294.2,288.8,284.3,281.6,278.5,274.3,270.1,265.8,262.2,258.9,256.2,253.8,251.7,244.4,235.4,222.7,210.0,201.9,198.3,195.5,204.6,212.7,210.0,206.4,210.0,212.7,212.2,209.1,206.4,204.6,201.0,201.9,204.6,203.7,201.0,198.3,192.8,187.4,184.7],
 [232.7,224.5,217.3,211.8,212.9,210.2,206.8,202.0,200.0,202.0,203.8,203.4,201.4,198.0,195.2,194.6,187.8,179.6,174.2,168.8,163.3,157.9,153.1,149.1,145.0,141.6,138.6,138.2,139.6,141.3,142.3,141.6,139.6,137.3,136.4],
 [181.3,175.6,171.5,168.8,166.3,165.8,165.5,165.0,162.7,161.3,160.3],
 [186.1,187.1,185.7,183.7,179.0,170.1,164.7,159.9,156.5,153.8],
 [187.1,185.7,185.7,187.1,189.1,192.5,197.3,204.1,213.6,224.4,236.7,250.2,262.4,272.0,281.5,292.3,299.1,305.9,311.6],
 [268.6,267.2,264.5,259.7,255.0,250.2,246.2,242.4,239.4,238.7,238.7],
 [219.4,219.4,214.1,207.3,198.9,190.5,183.8,179.6,176.2,172.9,170.7,170.0,168.6,167.8,170.4,173.4,173.7,172.4,170.4,168.6],
 [171.2,166.1,160.3,155.2,150.2,148.2,147.7,146.8,145.5,143.8,143.1],
 [215.4,213.2,211.0,213.2,217.1,220.8,224.1,225.8,224.5,220.8,215.7,210.7,205.7,200.6,194.7,188.8,183.0],
 [102.8,103.1,102.3,101.1,100.1],
]

SERIES = [
    ("black", BLACK_T, BLACK_HZ, "#000000", 3.3),
    ("blue", BLUE_T, BLUE_HZ, "#0000CC", 3.3),
    ("lightblue", LIGHTBLUE_T, LIGHTBLUE_HZ, "#1A9BE0", 3.3),
    ("purple", PURPLE_T, PURPLE_HZ, "#720080", 3.3),
    ("maroon", MAROON_T, MAROON_HZ, "#6E0000", 3.3),
    ("red", RED_T, RED_HZ, "#D20000", 6.0),
]

# ---------------- figure ----------------
p = figure(width=4096, height=1808, output_backend="svg", toolbar_location=None,
           x_range=(0, 5.766), y_range=(75, 500),
           min_border_left=388, min_border_right=388,
           min_border_top=258, min_border_bottom=261)
p.background_fill_color = "white"
p.border_fill_color = "white"
p.outline_line_color = "black"
p.outline_line_width = 10.5
p.xgrid.visible = False
p.ygrid.visible = False

for name, ts, hs, color, lw in SERIES:
    for a, b in zip(ts, hs):
        assert len(a) == len(b), (name, len(a), len(b))
    p.multi_line(xs=ts, ys=hs, line_color=color, line_width=lw,
                 line_join="round", line_cap="round")

for ax in (p.xaxis[0], p.yaxis[0]):
    ax.axis_line_color = None
    ax.major_tick_line_color = "black"
    ax.major_tick_line_width = 10.5
    ax.major_tick_in = 0
    ax.minor_tick_line_color = None
    ax.major_label_text_font = "Liberation Serif"
    ax.major_label_text_font_size = "91px"
    ax.major_label_text_color = "black"
    ax.axis_label_text_font = "Liberation Serif"
    ax.axis_label_text_font_size = "90px"
    ax.axis_label_text_font_style = "normal"
    ax.axis_label_text_color = "black"

p.xaxis.ticker = FixedTicker(ticks=X_TICKS)
p.xaxis.major_label_overrides = X_TICK_LABELS
p.xaxis.major_tick_out = 22
p.xaxis.major_label_standoff = 15
p.xaxis.axis_label = "Time (s)"
p.xaxis.axis_label_standoff = 0

p.yaxis.ticker = FixedTicker(ticks=Y_TICKS)
p.yaxis.major_tick_out = 24
p.yaxis.major_label_standoff = 12
p.yaxis.axis_label = "Pitch (Hz)"
p.yaxis.axis_label_standoff = 102

open("out.html", "w").write(file_html(p, INLINE))
